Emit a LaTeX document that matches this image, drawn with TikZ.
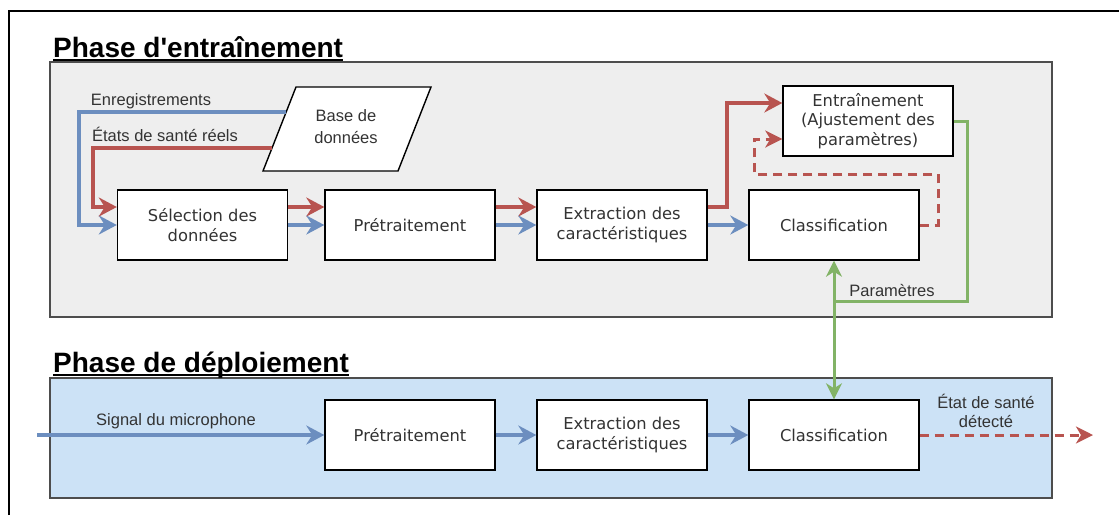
\documentclass[tikz,border=0pt]{standalone}
\usepackage{fontspec}
\setmainfont{Liberation Sans}
\newfontfamily\titlefont{Liberation Sans}
\newfontfamily\boxfont{DejaVu Sans}
\usetikzlibrary{arrows.meta,calc}

\definecolor{bluearrow}{HTML}{6C8EBF}
\definecolor{redarrow}{HTML}{B85450}
\definecolor{greenarrow}{HTML}{82B366}
\definecolor{trainfill}{HTML}{EEEEEE}
\definecolor{deployfill}{HTML}{CCE2F6}
\definecolor{panelline}{HTML}{4D4D4D}
\definecolor{textgray}{HTML}{333333}

\tikzset{
  block/.style={draw=black, line width=1.4pt, fill=white, minimum width=170pt, minimum height=70pt,
    inner sep=0pt, align=center, text=textgray, font=\boxfont\fontsize{16.3}{19.5}\selectfont},
  panel/.style={draw=panelline, line width=1.3pt},
  phasetitle/.style={anchor=base west, inner sep=0pt, font=\titlefont\bfseries\fontsize{28}{32}\selectfont},
  flowlabel/.style={inner sep=0pt, align=center, text=textgray, font=\fontsize{16.5}{19.5}\selectfont},
  bluearr/.style={draw=bluearrow, line width=3.6pt, -{Stealth[length=18pt,width=19pt,inset=6pt]}},
  redarr/.style={draw=redarrow, line width=3.6pt, -{Stealth[length=18pt,width=19pt,inset=6pt]}},
  reddash/.style={draw=redarrow, line width=3pt, dash pattern=on 9pt off 6pt,
    -{Stealth[length=17pt,width=17pt,inset=5pt]}},
  greenarr/.style={draw=greenarrow, line width=3pt}
}

\begin{document}
\begin{tikzpicture}[x=1pt,y=-1pt]
\useasboundingbox (0,0) rectangle (1119,515);
% frame and panels
\draw[line width=1.2pt] (9,515) -- (9,11) -- (1119,11);
\draw[panel, fill=trainfill] (50,62) rectangle (1052,317);
\draw[panel, fill=deployfill] (50,378) rectangle (1052,498);
\node[phasetitle] (ttrain) at (53,57) {Phase d'entraînement};
\draw[line width=2pt] ([yshift=-3pt]ttrain.base west) -- ([yshift=-3pt]ttrain.base east);
\node[phasetitle] (tdeploy) at (53,372) {Phase de déploiement};
\draw[line width=2pt] ([yshift=-3pt]tdeploy.base west) -- ([yshift=-3pt]tdeploy.base east);

% base de donnees
\coordinate (dbTL) at (296,87);
\coordinate (dbTR) at (431,87);
\coordinate (dbBR) at (398,171);
\coordinate (dbBL) at (263,171);
\draw[line width=1.4pt, fill=white] (dbTL) -- (dbTR) -- (dbBR) -- (dbBL) -- cycle;
\node[flowlabel, font=\fontsize{16.5}{22}\selectfont] (db) at (346,127) {Base de\\données};

% training row
\node[block] (sel) at (202.5,225) {Sélection des\\données};
\node[block] (pre) at (410,225) {Prétraitement};
\node[block] (ext) at (622,225) {Extraction des\\caractéristiques};
\node[block] (cls) at (834,225) {Classification};
\node[block] (trn) at (868,121) {Entraînement\\(Ajustement des\\paramètres)};

% deployment row
\node[block] (dpre) at (410,435) {Prétraitement};
\node[block] (dext) at (622,435) {Extraction des\\caractéristiques};
\node[block] (dcls) at (834,435) {Classification};

% inputs from the database
\draw[bluearr] ($(dbTL)!0.30!(dbBL)$) -| (79,225) -- (sel.west);
\node[flowlabel] (lrec) at (151,101) {Enregistrements};
\draw[redarr] ($(dbTL)!0.726!(dbBL)$) -| (93,207) -- ([yshift=18pt]sel.west);
\node[flowlabel] (lreal) at (165,134) {États de santé réels};

% training flow
\draw[redarr] ([yshift=18pt]sel.east) -- ([yshift=18pt]pre.west);
\draw[bluearr] (sel.east) -- (pre.west);
\draw[redarr] ([yshift=18pt]pre.east) -- ([yshift=18pt]ext.west);
\draw[bluearr] (pre.east) -- (ext.west);
\draw[redarr] ([yshift=18pt]ext.east) -| (727,103) -- ([yshift=18pt]trn.west);
\draw[bluearr] (ext.east) -- (cls.west);
\draw[reddash] (cls.east) -| (938,174) -| (754,139) -- ([yshift=-18pt]trn.west);

% parameters
\coordinate (pjoin) at (834,301);
\draw[greenarr] (trn.east) -| (967,301) -- (pjoin);
\draw[greenarr, {Stealth[length=16pt,width=16pt,inset=5pt]}-{Stealth[length=16pt,width=16pt,inset=5pt]}] (cls.south) -- (dcls.north);
\node[flowlabel] (lpar) at (892,290) {Paramètres};

% deployment flow
\coordinate (mic) at (37,435);
\draw[bluearr] (mic) -- (dpre.west);
\node[flowlabel] (lmic) at (176,421) {Signal du microphone};
\draw[bluearr] (dpre.east) -- (dext.west);
\draw[bluearr] (dext.east) -- (dcls.west);
\coordinate (out) at (1093,435);
\draw[reddash] (dcls.east) -- (out);
\node[flowlabel] (lout) at (986,411) {État de santé\\détecté};
\end{tikzpicture}
\end{document}
